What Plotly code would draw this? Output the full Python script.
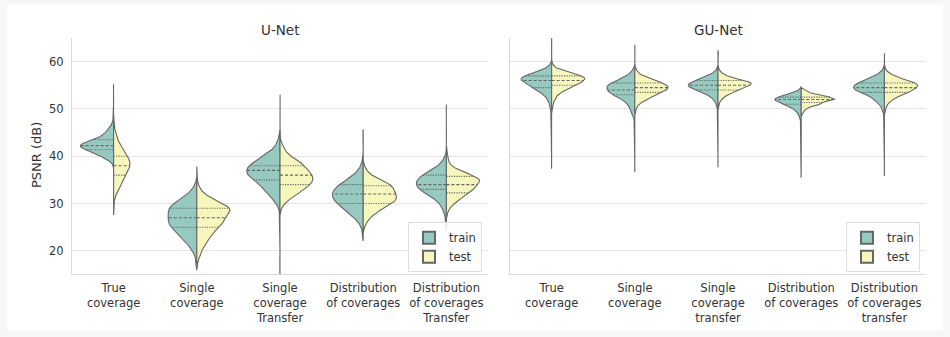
import numpy as np
import plotly.graph_objects as go

# ---------------------------------------------------------------------------
# Data: PSNR (dB) histograms per model, method and split.
# Each entry is (psnr_values, image_counts), listed in method order.
# ---------------------------------------------------------------------------
UNET_METHODS = ["True<br>coverage", "Single<br>coverage", "Single<br>coverage<br>Transfer",
                "Distribution<br>of coverages", "Distribution<br>of coverages<br>Transfer"]
GUNET_METHODS = ["True<br>coverage", "Single<br>coverage", "Single<br>coverage<br>transfer",
                 "Distribution<br>of coverages", "Distribution<br>of coverages<br>transfer"]
PSNR_TICKS = [20, 30, 40, 50, 60]

UNET_TRAIN = [
    ([38.5, 39, 39.5, 40, 40.5, 41, 41.5, 42, 42.5, 43, 43.5, 44, 44.5, 45, 45.5, 46, 46.5, 47, 48, 54.3],
     [1, 3, 6, 10, 14, 16, 24, 26, 26, 22, 14, 11, 8, 6, 5, 3, 2, 1, 1, 1]),
    ([17.5, 19, 20, 21, 22, 23, 24, 25, 26, 27, 28, 29, 30, 31, 32, 33, 34],
     [1, 1, 3, 5, 8, 11, 13, 18, 19, 19, 19, 19, 16, 10, 6, 3, 1]),
    ([16.5, 29, 30, 31, 32, 33, 34, 35, 36, 37, 38, 39, 40, 41, 42, 43, 44],
     [1, 1, 3, 6, 10, 12, 17, 22, 27, 28, 26, 20, 14, 8, 4, 2, 1]),
    ([23.5, 25, 26, 27, 28, 29, 30, 31, 32, 33, 34, 35, 36, 37, 38, 39, 44.3],
     [1, 2, 4, 9, 14, 19, 25, 29, 30, 28, 23, 16, 9, 5, 2, 1, 1]),
    ([25.7, 27, 28, 29, 30, 31, 32, 33, 34, 35, 36, 37, 38, 39, 40, 49.6],
     [1, 1, 2, 4, 7, 12, 20, 28, 31, 30, 25, 15, 8, 4, 1, 1]),
]
UNET_TEST = [
    ([29.2, 31, 32, 33, 34, 35, 36, 37, 38, 39, 40, 41, 42, 43, 44, 45, 46, 47],
     [1, 1, 3, 6, 9, 12, 15, 18, 20, 20, 17, 13, 9, 6, 4, 2, 1, 1]),
    ([18, 19, 20, 21, 22, 23, 24, 25, 26, 27, 28, 29, 30, 31, 32, 33, 34, 36.2],
     [1, 2, 3, 5, 7, 9, 11, 16, 17, 19, 22, 24, 17, 10, 5, 2, 1, 1]),
    ([29, 30, 31, 32, 33, 34, 35, 36, 37, 38, 39, 40, 41, 42, 43, 51.6],
     [1, 4, 9, 15, 22, 27, 30, 29, 25, 22, 17, 9, 5, 3, 1, 1]),
    ([25, 26, 27, 28, 29, 30, 31, 32, 33, 34, 35, 36, 37, 38],
     [1, 3, 6, 11, 18, 26, 30, 29, 27, 25, 15, 7, 3, 1]),
    ([28, 29, 30, 31, 32, 33, 34, 35, 36, 37, 38, 39, 40, 41],
     [1, 3, 7, 13, 20, 25, 29, 32, 24, 12, 4, 2, 1, 1]),
]
GUNET_TRAIN = [
    ([38.3, 49.5, 50, 50.5, 51, 51.5, 52, 52.5, 53, 53.5, 54, 54.5, 55, 55.5, 56, 56.5, 57, 57.5, 58, 58.5, 59, 59.5],
     [1, 1, 1, 1, 2, 3, 4, 5, 8, 11, 15, 19, 22, 27, 31, 32, 28, 20, 12, 6, 3, 1]),
    ([37.6, 48, 48.5, 49, 49.5, 50, 50.5, 51, 51.5, 52, 52.5, 53, 53.5, 54, 54.5, 55, 55.5, 56, 56.5, 57, 57.5, 58, 58.5],
     [1, 1, 2, 3, 4, 5, 6, 7, 10, 13, 17, 24, 27, 29, 30, 29, 25, 19, 13, 8, 5, 3, 1]),
    ([38.5, 50, 50.5, 51, 51.5, 52, 52.5, 53, 53.5, 54, 54.5, 55, 55.5, 56, 56.5, 57, 57.5, 58, 58.5],
     [1, 1, 1, 2, 3, 5, 8, 12, 18, 26, 33, 36, 33, 26, 18, 11, 6, 3, 1]),
    ([36.2, 47, 47.5, 48, 48.5, 49, 49.5, 50, 50.5, 51, 51.5, 52, 52.5, 53, 53.5, 54],
     [1, 1, 1, 2, 3, 5, 8, 12, 20, 30, 40, 46, 40, 25, 10, 3]),
    ([36.8, 49, 49.5, 50, 50.5, 51, 51.5, 52, 52.5, 53, 53.5, 54, 54.5, 55, 55.5, 56, 56.5, 57, 57.5, 58, 58.5],
     [1, 1, 1, 2, 3, 5, 7, 10, 12, 16, 24, 28, 30, 29, 25, 20, 14, 9, 5, 2, 1]),
]
GUNET_TEST = [
    ([50, 50.5, 51, 51.5, 52, 52.5, 53, 53.5, 54, 54.5, 55, 55.5, 56, 56.5, 57, 57.5, 58, 58.5, 59, 59.5, 64.2],
     [1, 1, 1, 2, 3, 4, 6, 9, 13, 18, 23, 27, 31, 33, 29, 20, 11, 5, 2, 1, 1]),
    ([49.5, 50, 50.5, 51, 51.5, 52, 52.5, 53, 53.5, 54, 54.5, 55, 55.5, 56, 56.5, 57, 57.5, 58, 58.5, 62.8],
     [1, 1, 2, 4, 7, 11, 16, 21, 26, 30, 32, 31, 26, 19, 12, 7, 4, 2, 1, 1]),
    ([50.5, 51, 51.5, 52, 52.5, 53, 53.5, 54, 54.5, 55, 55.5, 56, 56.5, 57, 57.5, 58, 58.5, 61.75],
     [1, 1, 2, 4, 7, 11, 17, 25, 31, 37, 40, 30, 18, 10, 5, 2, 1, 1]),
    ([49, 49.5, 50, 50.5, 51, 51.5, 52, 52.5, 53, 53.5, 54],
     [2, 3, 6, 11, 24, 26, 42, 36, 20, 9, 5]),
    ([49.5, 50, 50.5, 51, 51.5, 52, 52.5, 53, 53.5, 54, 54.5, 55, 55.5, 56, 56.5, 57, 57.5, 58, 58.5, 61.0],
     [1, 1, 2, 3, 5, 8, 12, 17, 23, 28, 31, 33, 30, 23, 15, 9, 5, 2, 1, 1]),
]

# ---------------------------------------------------------------------------
# Style
# ---------------------------------------------------------------------------
TRAIN_COLOR = "#96cac1"
TEST_COLOR = "#f6f6bd"
EDGE = "#666666"
TEXT = "#333333"
GRID = "#e4e4e4"
SPINE = "#dadada"
FONT = "DejaVu Sans"
HALF_WIDTH = 0.4   # widest half-violin in each group, in category units
BW_ADJUST = 0.7    # multiplier on Scott's bandwidth

W, H = 950, 337
ML, MR, MT, MB = 72, 24, 38, 61
PW, PH = W - ML - MR, H - MT - MB


def px_x(p):
    return (p - ML) / PW


def px_y(p):
    return (H - MB - p) / PH


def kde(values, counts):
    """Gaussian KDE (adjusted Scott bandwidth, cut = 2 bandwidths) of a weighted histogram."""
    v = np.asarray(values, float)
    c = np.asarray(counts, float)
    samples = np.repeat(v, counts)
    n = samples.size
    bw = BW_ADJUST * samples.std(ddof=1) * n ** (-0.2)
    grid = np.linspace(samples.min() - 2 * bw, samples.max() + 2 * bw, 600)
    z = (grid[None, :] - v[:, None]) / bw
    dens = (c[:, None] * np.exp(-0.5 * z ** 2)).sum(0) / (n * bw * np.sqrt(2 * np.pi))
    quart = np.percentile(samples, [25, 50, 75])
    return grid, dens, quart


fig = go.Figure()

panels = [
    ("x", "y", "legend", UNET_TRAIN, UNET_TEST),
    ("x2", "y2", "legend2", GUNET_TRAIN, GUNET_TEST),
]

for xa, ya, leg, train_sets, test_sets in panels:
    for pos, (tr, te) in enumerate(zip(train_sets, test_sets)):
        halves = [("train", TRAIN_COLOR, -1, kde(*tr)), ("test", TEST_COLOR, 1, kde(*te))]
        peak = max(h[3][1].max() for h in halves)
        scale = HALF_WIDTH / peak
        for name, color, side, (grid, dens, quart) in halves:
            xs = np.concatenate([pos + side * dens * scale, [pos, pos]])
            ys = np.concatenate([grid, [grid[-1], grid[0]]])
            fig.add_trace(go.Scatter(
                x=xs, y=ys, xaxis=xa, yaxis=ya, mode="lines", fill="toself",
                fillcolor=color, line=dict(color=EDGE, width=1.1), name=name,
                showlegend=False, hoverinfo="skip"))
            widths = np.interp(quart, grid, dens) * scale
            for k, (q, w) in enumerate(zip(quart, widths)):
                fig.add_trace(go.Scatter(
                    x=[pos, pos + side * w], y=[q, q], xaxis=xa, yaxis=ya,
                    mode="lines", showlegend=False, hoverinfo="skip",
                    line=dict(color=EDGE, width=1.1,
                              dash="3px,2px" if k == 1 else "1.2px,1.3px")))
    # legend swatches for the two splits of this panel
    for name, color in (("train", TRAIN_COLOR), ("test", TEST_COLOR)):
        fig.add_trace(go.Scatter(
            x=[None], y=[None], xaxis=xa, yaxis=ya, mode="markers", name=name,
            legend=leg, showlegend=True, hoverinfo="skip",
            marker=dict(symbol="square", size=11, color=color,
                        line=dict(color=EDGE, width=1))))

axis_common = dict(
    showline=True, linecolor=SPINE, linewidth=1.2, zeroline=False,
    tickfont=dict(family=FONT, size=11.5, color=TEXT),
)
xdom1 = [0, px_x(488)]
xdom2 = [px_x(510), 1]
legend_common = dict(xanchor="right", yanchor="middle",
                     bgcolor="rgba(255,255,255,0.85)", bordercolor="#dddddd", borderwidth=1,
                     font=dict(family=FONT, size=11.5, color=TEXT), tracegroupgap=0,
                     itemsizing="constant")
fig.update_layout(
    width=W, height=H,
    margin=dict(l=ML, r=MR, t=MT, b=MB),
    paper_bgcolor="#f7f7f7", plot_bgcolor="white",
    font=dict(family=FONT, color=TEXT),
    xaxis=dict(domain=xdom1, range=[-0.5, 4.5], tickvals=list(range(5)), ticktext=UNET_METHODS,
               showgrid=False, ticks="outside", ticklen=3, tickcolor="rgba(0,0,0,0)", **axis_common),
    xaxis2=dict(domain=xdom2, range=[-0.5, 4.5], tickvals=list(range(5)), ticktext=GUNET_METHODS,
                showgrid=False, ticks="outside", ticklen=3, tickcolor="rgba(0,0,0,0)",
                anchor="y2", **axis_common),
    yaxis=dict(range=[15.1, 65], tickvals=PSNR_TICKS, showgrid=True, gridcolor=GRID, gridwidth=1.2,
               ticks="outside", ticklen=5, tickcolor="rgba(0,0,0,0)", **axis_common),
    yaxis2=dict(range=[15.1, 65], tickvals=PSNR_TICKS, showgrid=True, gridcolor=GRID, gridwidth=1.2,
                matches="y", anchor="x2", showticklabels=False, **axis_common),
    legend=dict(x=px_x(482), y=px_y(249), **legend_common),
    legend2=dict(x=px_x(920), y=px_y(249), **legend_common),
    shapes=[dict(type="rect", xref="paper", yref="paper", layer="below",
                 x0=px_x(7), x1=px_x(943), y0=px_y(333), y1=px_y(4),
                 fillcolor="white", line=dict(width=0))],
    annotations=[
        dict(text="U-Net", xref="paper", yref="paper", x=px_x(280), y=px_y(29.5),
             xanchor="center", yanchor="middle", showarrow=False,
             font=dict(family=FONT, size=13.5, color=TEXT)),
        dict(text="GU-Net", xref="paper", yref="paper", x=px_x(718), y=px_y(29.5),
             xanchor="center", yanchor="middle", showarrow=False,
             font=dict(family=FONT, size=13.5, color=TEXT)),
        dict(text="PSNR (dB)", xref="paper", yref="paper", x=px_x(36), y=px_y(156),
             xanchor="center", yanchor="middle", textangle=-90, showarrow=False,
             font=dict(family=FONT, size=13, color=TEXT)),
    ],
)

fig.write_html("out.html")
